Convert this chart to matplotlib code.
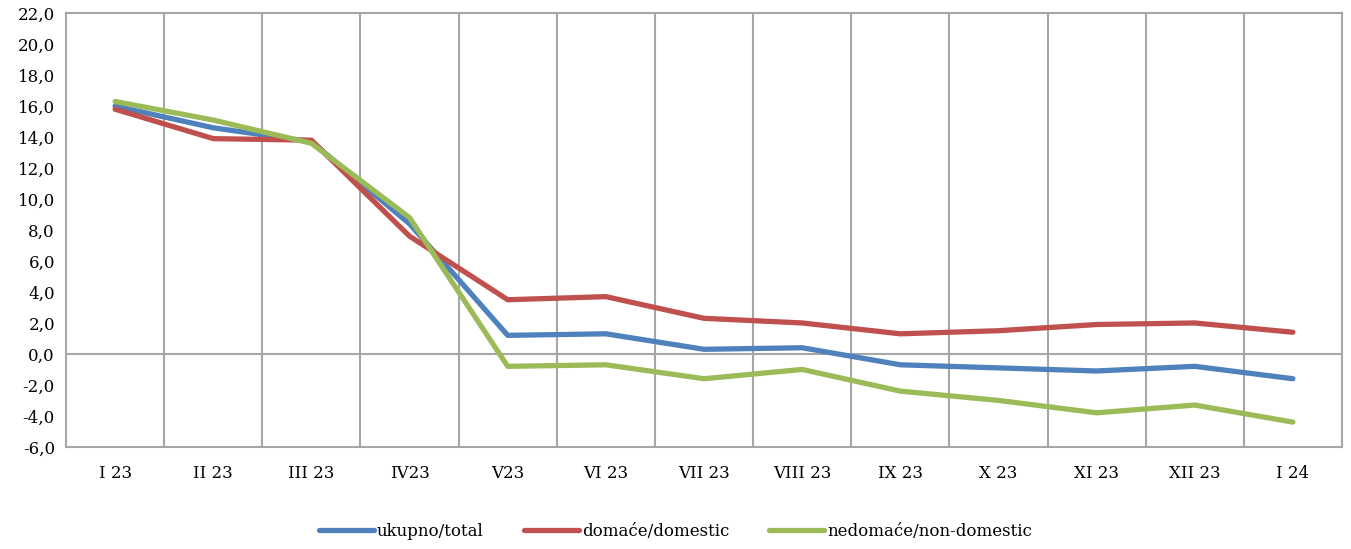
import numpy as np
import matplotlib.pyplot as plt

months = ['I 23', 'II 23', 'III 23', 'IV23', 'V23', 'VI 23', 'VII 23',
          'VIII 23', 'IX 23', 'X 23', 'XI 23', 'XII 23', 'I 24']
total = [16.0, 14.6, 13.7, 8.4, 1.2, 1.3, 0.3, 0.4, -0.7, -0.9, -1.1, -0.8, -1.6]
domestic = [15.8, 13.9, 13.8, 7.6, 3.5, 3.7, 2.3, 2.0, 1.3, 1.5, 1.9, 2.0, 1.4]
non_domestic = [16.3, 15.1, 13.6, 8.8, -0.8, -0.7, -1.6, -1.0, -2.4, -3.0, -3.8, -3.3, -4.4]

plt.rcParams['font.family'] = ['DejaVu Serif']

fig = plt.figure(figsize=(13.51, 5.49), dpi=100)
ax = fig.add_axes([0.0489, 0.186, 0.9444, 0.790])

x = np.arange(len(months))
ax.plot(x, total, color='#4F81BD', lw=3.8, label='ukupno/total', solid_capstyle='round')
ax.plot(x, domestic, color='#C0504D', lw=3.8, label='domaće/domestic', solid_capstyle='round')
ax.plot(x, non_domestic, color='#9BBB59', lw=3.8, label='nedomaće/non-domestic', solid_capstyle='round')

ax.set_xlim(-0.5, len(months) - 0.5)
ax.set_ylim(-6, 22)
ax.set_yticks(np.arange(-6, 23, 2))
ax.set_yticklabels([f'{v:.1f}'.replace('.', ',') for v in np.arange(-6, 23, 2)])
ax.set_xticks(x)
ax.set_xticklabels(months)

for b in np.arange(0.5, len(months) - 1, 1):
    ax.axvline(b, color='#A6A6A6', lw=1.5, zorder=0)
ax.axhline(0, color='#A6A6A6', lw=1.5, zorder=0)
for s in ax.spines.values():
    s.set_color('#A6A6A6')
    s.set_linewidth(1.5)

ax.tick_params(axis='both', length=0, labelsize=12, colors='black')
ax.tick_params(axis='x', pad=13)
ax.tick_params(axis='y', pad=8)

fig.legend(loc='center', bbox_to_anchor=(0.5, 1 - 531 / 549), ncol=3, frameon=False,
           fontsize=12, handlelength=3.3, handletextpad=0.2, columnspacing=2.4)

fig.savefig('out.png', dpi=100)
